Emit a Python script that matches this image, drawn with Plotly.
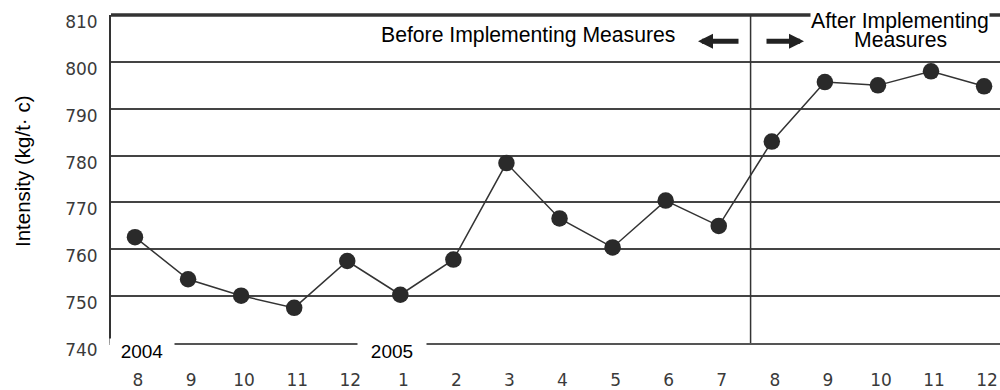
import plotly.graph_objects as go

# ---- data ----
months = ["8", "9", "10", "11", "12", "1", "2", "3", "4", "5", "6", "7",
          "8", "9", "10", "11", "12"]
intensity = [762.6, 753.6, 750.1, 747.5, 757.5, 750.3, 757.8, 778.4, 766.6,
             760.4, 770.4, 765.0, 783.0, 795.7, 795.0, 798.0, 794.8]
y_ticks = [740, 750, 760, 770, 780, 790, 800, 810]
year_labels = ["2004", "2005"]
before_label = "Before Implementing Measures"
after_label = ["After Implementing", "Measures"]
y_title = "Intensity (kg/t· c)"

x_idx = list(range(len(months)))

W, H = 1000, 390
L, R, T, B = 111, 0, 15, 45
pw, ph = W - L - R, H - T - B


def px_x(p):
    return (p - L) / pw


def px_y(p):
    return (H - B - p) / ph


TXT = "Liberation Sans, Arial, sans-serif"
TICK = "DejaVu Sans, sans-serif"

fig = go.Figure()
fig.add_trace(go.Scatter(
    x=x_idx, y=intensity, mode="lines+markers",
    line=dict(color="#333333", width=1.5),
    marker=dict(size=16.5, color="#2a2a2a"),
    showlegend=False, hoverinfo="skip"))

fig.update_layout(
    width=W, height=H,
    margin=dict(l=L, r=R, t=T, b=B),
    paper_bgcolor="white", plot_bgcolor="white",
    xaxis=dict(range=[-0.452, 16.30], tickvals=x_idx, ticktext=months,
               showgrid=False, zeroline=False, showline=True,
               linecolor="#555555", linewidth=2, ticks="",
               tickfont=dict(family=TICK, size=17, color="#3a3a3a"),
               ticklabelstandoff=21, ticklabelshift=3, fixedrange=True),
    yaxis=dict(range=[740, 810.02], tickvals=y_ticks, showgrid=True,
               gridcolor="#444444", gridwidth=1.5, zeroline=False,
               showline=True, linecolor="#333333", linewidth=2, ticks="",
               tickfont=dict(family=TICK, size=17, color="#3a3a3a"),
               ticklabelshift=7, ticklabelstandoff=8,
               fixedrange=True),
    shapes=[
        dict(type="line", xref="paper", yref="paper", x0=0, x1=1, y0=1, y1=1,
             line=dict(color="#333333", width=3.5)),
        dict(type="line", xref="x", yref="paper", x0=11.6, x1=11.6, y0=0, y1=1,
             line=dict(color="#333333", width=1.5)),
    ],
)

ann = []
# y axis title
ann.append(dict(text=y_title, xref="paper", yref="paper", textangle=-90,
                x=px_x(22), y=px_y(172), xanchor="center", yanchor="middle",
                showarrow=False,
                font=dict(family=TXT, size=20.5, color="black")))
# year labels covering the bottom axis
ann.append(dict(text=year_labels[0], xref="paper", yref="paper",
                x=px_x(142), y=px_y(353), xanchor="center", yanchor="middle",
                showarrow=False, bgcolor="white", width=62, height=22,
                font=dict(family=TXT, size=19, color="black")))
ann.append(dict(text=year_labels[1], xref="paper", yref="paper",
                x=px_x(391.5), y=px_y(353), xanchor="center", yanchor="middle",
                showarrow=False, bgcolor="white", width=66, height=22,
                font=dict(family=TXT, size=19, color="black")))
# before label
ann.append(dict(text=before_label, xref="paper", yref="paper",
                x=px_x(528), y=px_y(35), xanchor="center", yanchor="middle",
                showarrow=False,
                font=dict(family=TXT, size=21.2, color="black")))
# arrows
ann.append(dict(text="", xref="paper", yref="paper", x=px_x(698), y=px_y(41.5),
                ax=42, ay=0, showarrow=True, arrowhead=2, arrowsize=0.6,
                arrowwidth=5, arrowcolor="#222222"))
ann.append(dict(text="", xref="paper", yref="paper", x=px_x(804), y=px_y(41.5),
                ax=-39, ay=0, showarrow=True, arrowhead=2, arrowsize=0.6,
                arrowwidth=5, arrowcolor="#222222"))
# after label (two tight lines)
ann.append(dict(text=after_label[0], xref="paper", yref="paper",
                x=px_x(900), y=px_y(21), xanchor="center", yanchor="middle",
                showarrow=False, bgcolor="white", borderpad=0,
                font=dict(family=TXT, size=21.2, color="black")))
ann.append(dict(text=after_label[1], xref="paper", yref="paper",
                x=px_x(900), y=px_y(39.5), xanchor="center", yanchor="middle",
                showarrow=False,
                font=dict(family=TXT, size=21.2, color="black")))
fig.update_layout(annotations=ann)

fig.write_html("out.html",
               config={"displayModeBar": False},
               post_script="document.body.style.margin='0px';")
